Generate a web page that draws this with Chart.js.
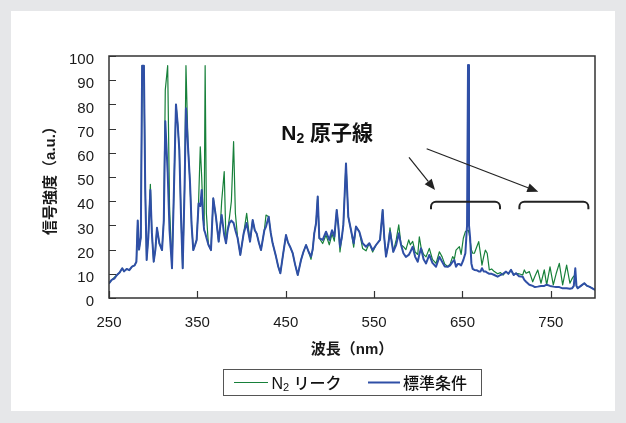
<!DOCTYPE html>
<html>
<head>
<meta charset="utf-8">
<script src="https://cdn.jsdelivr.net/npm/chart.js@4.4.0/dist/chart.umd.min.js"></script>
<style>
  html, body { margin: 0; padding: 0; background: #e6e7e9; }
  #wrap { width: 626px; height: 423px; }
</style>
</head>
<body>
<div id="wrap"><canvas id="spectrum" width="626" height="423"></canvas></div>
<script>
// Wavelength (nm) shared by both spectra
const wavelength = [
  250, 253, 256, 259, 262, 265, 267, 270, 273, 276, 279, 281, 282.5, 284, 286, 287.5, 289.5, 291, 292.6, 294.5,
  296.8, 298.5, 300.6, 302.5, 304.3, 307, 310, 312, 313.7, 316.4, 318.5, 321.3, 323.5, 325.8, 327.7, 329.6,
  331.5, 333.4, 335.5, 337.1, 339.5, 341.7, 343.5, 345.4, 347.5, 349.2, 351.4, 353.3, 354.9, 356.5, 357.7,
  358.8, 360.2, 362.5, 365.4, 368, 371, 374.1, 376, 377.5, 380.4, 382.4, 384.3, 386.2, 388.5, 391, 393,
  395.6, 398.6, 402.4, 405.8, 409.6, 412.6, 415, 417.1, 419.5, 422, 425.8, 427.7, 430.7, 433, 435.2, 439,
  441.5, 443.9, 447, 450.3, 452.5, 454.9, 457.9, 460.5, 463.6, 467.3, 470, 473, 476, 478.6, 480.5, 482.3,
  484.3, 486.2, 488, 491.8, 495.6, 499.3, 502.4, 505, 507.7, 509.5, 511.4, 513.5, 515.2, 518.2, 520.8, 523.9,
  526.9, 529.5, 533.3, 537, 540.9, 544.6, 548.4, 552.2, 556.7, 559.7, 561.5, 563.5, 566, 568, 571.7, 575,
  577.9, 580.5, 583.2, 586, 589.2, 591, 593.7, 596.5, 599.4, 601.2, 603.1, 606, 608.8, 612.5, 616, 620.1,
  623.9, 627, 630, 633.3, 636, 638.9, 640.8, 642.7, 644.6, 646.5, 648.5, 651, 653.3, 655.2, 656.3, 657.4,
  658.6, 660.1, 661.6, 663.5, 666, 668.4, 670.5, 672.1, 674, 675.9, 678, 680.4, 683, 686.1, 689.8, 693, 696,
  699.3, 702, 705, 708, 710.6, 714, 718.2, 720, 722, 725.7, 729.5, 732, 735.2, 738.9, 742.6, 745.3, 749.1,
  752.8, 756, 759.6, 763.4, 767.9, 771.6, 774, 776, 777.7, 779, 780.4, 784, 787.9, 791, 793.5, 797, 800
];

// Signal intensity (a.u.) with N2 leak
const n2Leak = [
  6, 7.5, 8.5, 9.5, 10.5, 12.3, 11, 12, 11.5, 13, 13.5, 15, 32, 20, 25, 96, 96, 45, 15.7, 25,
  47, 27, 15, 20, 29, 22.6, 19.8, 32, 86, 96, 38, 12.3, 45, 80, 72, 61,
  33.6, 12.3, 45, 96, 62, 47.5, 30, 19.8, 22, 24, 40, 62.5, 50, 33, 30,
  96, 35, 22, 19.8, 41.2, 33.6, 23.3, 30, 40, 52.2, 22.6, 28, 33, 40, 64.6, 35,
  24.7, 17.8, 26.7, 35, 23.3, 32.2, 28, 26.7, 23, 19.8, 28, 34.3, 33.6, 27, 22.6, 17.1,
  13, 10.2, 18, 26, 23, 21.2, 18.5, 14, 9.5, 15.7, 19, 21.9, 19, 16, 20, 26.7,
  30.9, 41.9, 24.7, 22.5, 26, 22, 26.5, 23.5, 36.4, 30, 19, 25, 30.2, 55.6, 33.6, 28,
  21, 29.5, 27.4, 20.5, 19.5, 22.6, 19, 21.9, 24, 36.4, 25, 17.1, 22, 29, 19.1, 24,
  30.2, 22, 21.2, 20, 24, 22, 23.4, 19, 18, 25.3, 21, 18, 17, 20.5, 16, 14.3,
  19.1, 17, 14, 13, 14, 17.1, 16, 19.8, 20.5, 21.2, 18, 24.7, 27.4, 28, 28, 27,
  24, 20, 18.5, 18.5, 21, 23.3, 18, 13.6, 17, 19.8, 18.5, 11.6, 12, 10.9, 10, 10.5, 9.5,
  10.9, 10, 11.6, 9.5, 10.2, 10, 9.5, 11.6, 10.2, 10.9, 6.7, 9, 11.6, 6.1, 11.6, 5.4, 12.9,
  5.4, 10, 14.3, 5.4, 13.6, 6.1, 8, 9, 9, 5, 4, 5, 6.1, 5, 4.7, 4, 3.3
];

// Signal intensity (a.u.) under standard conditions
const standard = [
  6, 7.5, 8, 9.5, 10.5, 12.3, 11, 12, 11.5, 13, 13.5, 15, 32, 20, 25, 96, 96, 45, 15.7, 25,
  44.6, 27, 15, 20, 29, 22.6, 19.8, 32, 73, 52, 28, 12.3, 45, 80, 72, 61,
  33.6, 12.3, 45, 78.4, 62, 47.5, 30, 19.8, 22, 24, 39.1, 38, 44.6, 33, 28,
  27, 25, 22, 19.8, 41.2, 33.6, 23.3, 30, 34.3, 26, 22.6, 28, 30.9, 32, 31, 28,
  24.7, 17.8, 26.7, 31, 23.3, 32.2, 28, 26.7, 23, 19.8, 28, 29.5, 33.6, 27, 22.6, 17.1,
  13, 10.2, 18, 26, 23, 21.2, 18.5, 14, 9.5, 15.7, 19, 21.9, 19, 17.1, 20, 26.7,
  30.9, 41.9, 24.7, 24, 27.4, 24, 28, 25.3, 36.4, 30, 21.2, 25, 30.2, 55.6, 33.6, 28,
  22.6, 29.5, 27.4, 22.6, 21.2, 22.6, 19.8, 21.9, 24, 36.4, 25, 17.1, 22, 27.4, 19.1, 22,
  26.7, 22, 18.5, 17, 17.8, 19, 21.2, 17, 15, 18, 20.5, 16, 14.3, 17.8, 14.5, 12.9,
  17, 15, 13, 12.9, 13.5, 15, 15.7, 12.9, 14, 14, 13.5, 15.7, 18.5, 30, 96.3, 30,
  25.3, 14.3, 12, 11.6, 11.5, 11, 11, 12.3, 11, 11, 10.5, 10, 10, 9.5, 8.8, 9.5, 10,
  10.9, 10, 11.6, 9.5, 10.2, 9, 8.8, 7.5, 6.7, 5.5, 5, 4.5, 4.7, 5, 5, 5.5, 5,
  4.7, 4.5, 4.5, 4, 4, 3.8, 4, 5, 12.3, 5, 4, 5, 6.1, 5, 4.7, 4, 3.3
];

const seriesLabels = ['N2 リーク', '標準条件'];
const seriesColors = ['#17803a', '#2f4fa6'];
const xTicks = [250, 350, 450, 550, 650, 750];
const yTicks = [0, 10, 20, 30, 40, 50, 60, 70, 80, 90, 100];

const latin = "'Liberation Sans', Arial, 'Noto Sans CJK JP', sans-serif";
const ink = '#1a1a1a';

// draw text pieces one after another (used for the N2 subscript)
function drawRuns(ctx, x, y, runs) {
  runs.forEach(r => {
    ctx.font = r.font;
    ctx.fillText(r.text, x, y + (r.dy || 0));
    x += ctx.measureText(r.text).width;
  });
  return x;
}

function arrow(ctx, x1, y1, x2, y2) {
  const a = Math.atan2(y2 - y1, x2 - x1);
  const len = 11, half = 4.5;
  const bx = x2 - len * Math.cos(a), by = y2 - len * Math.sin(a);
  ctx.beginPath();
  ctx.moveTo(x1, y1);
  ctx.lineTo(bx, by);
  ctx.stroke();
  ctx.beginPath();
  ctx.moveTo(x2, y2);
  ctx.lineTo(bx + half * Math.sin(a), by - half * Math.cos(a));
  ctx.lineTo(bx - half * Math.sin(a), by + half * Math.cos(a));
  ctx.closePath();
  ctx.fill();
}

function bracket(ctx, x1, x2, yTop, yEnd) {
  const r = 5;
  ctx.beginPath();
  ctx.moveTo(x1, yEnd);
  ctx.arcTo(x1, yTop, x1 + r, yTop, r);
  ctx.lineTo(x2 - r, yTop);
  ctx.arcTo(x2, yTop, x2, yEnd, r);
  ctx.lineTo(x2, yEnd);
  ctx.stroke();
}

const decorPlugin = {
  id: 'decor',
  beforeDraw(chart) {
    const ctx = chart.ctx;
    ctx.save();
    ctx.fillStyle = '#e6e7e9';
    ctx.fillRect(0, 0, chart.width, chart.height);
    ctx.fillStyle = '#ffffff';
    ctx.fillRect(11, 11, chart.width - 22, chart.height - 23);
    ctx.restore();
  },
  afterDatasetsDraw(chart) {
    const ctx = chart.ctx;
    const {left, right, top, bottom} = chart.chartArea;
    const xs = chart.scales.x, ys = chart.scales.y;
    ctx.save();
    // plot frame
    ctx.strokeStyle = '#333';
    ctx.lineWidth = 1.5;
    ctx.strokeRect(left, top, right - left, bottom - top);
    // inward tick marks
    ctx.lineWidth = 1.2;
    ctx.beginPath();
    yTicks.forEach(v => {
      const y = Math.round(ys.getPixelForValue(v)) + 0.5;
      ctx.moveTo(left, y);
      ctx.lineTo(left + 7, y);
    });
    xTicks.forEach(v => {
      const x = Math.round(xs.getPixelForValue(v)) + 0.5;
      ctx.moveTo(x, bottom);
      ctx.lineTo(x, bottom - 7);
    });
    ctx.stroke();

    // annotation: N2 atomic lines
    const px = v => xs.getPixelForValue(v);
    const py = v => ys.getPixelForValue(v);
    ctx.fillStyle = '#111';
    ctx.textBaseline = 'alphabetic';
    drawRuns(ctx, px(445), py(65.3), [
      {text: 'N', font: 'bold 21px ' + latin},
      {text: '2', font: 'bold 14px ' + latin, dy: 3},
      {text: ' 原子線', font: 'bold 21px ' + latin}
    ]);
    ctx.strokeStyle = '#222';
    ctx.fillStyle = '#222';
    ctx.lineWidth = 1.2;
    arrow(ctx, px(589.5), py(58.1), px(619), py(44.6));
    arrow(ctx, px(609.5), py(61.7), px(735.8), py(43.9));
    ctx.lineWidth = 2;
    bracket(ctx, px(614.4), px(692.5), py(39.8), py(36.7));
    bracket(ctx, px(714.4), px(792.5), py(39.8), py(36.7));
    ctx.restore();
  },
  afterDraw(chart) {
    // legend box
    const ctx = chart.ctx;
    ctx.save();
    ctx.fillStyle = '#fff';
    ctx.fillRect(223, 369, 258, 26);
    ctx.strokeStyle = '#555';
    ctx.lineWidth = 1;
    ctx.strokeRect(223.5, 369.5, 258, 26);
    const yMid = 382.5;
    ctx.lineWidth = 1.2;
    ctx.strokeStyle = seriesColors[0];
    ctx.beginPath(); ctx.moveTo(234, yMid); ctx.lineTo(268, yMid); ctx.stroke();
    ctx.lineWidth = 2;
    ctx.strokeStyle = seriesColors[1];
    ctx.beginPath(); ctx.moveTo(368, yMid); ctx.lineTo(400, yMid); ctx.stroke();
    ctx.fillStyle = '#111';
    ctx.textBaseline = 'alphabetic';
    const parts = seriesLabels[0].split(' ');
    drawRuns(ctx, 271.5, 389, [
      {text: parts[0][0], font: '500 16px ' + latin},
      {text: parts[0].slice(1), font: '500 11px ' + latin, dy: 2},
      {text: ' ' + parts[1], font: '500 16px ' + latin}
    ]);
    drawRuns(ctx, 403, 389, [{text: seriesLabels[1], font: '500 16px ' + latin}]);
    ctx.restore();
  }
};

new Chart(document.getElementById('spectrum'), {
  type: 'line',
  data: {
    datasets: [
      {
        label: seriesLabels[0],
        data: wavelength.map((w, i) => ({x: w, y: n2Leak[i]})),
        borderColor: seriesColors[0],
        borderWidth: 1.2,
        order: 2
      },
      {
        label: seriesLabels[1],
        data: wavelength.map((w, i) => ({x: w, y: standard[i]})),
        borderColor: seriesColors[1],
        borderWidth: 2,
        order: 1
      }
    ]
  },
  options: {
    responsive: false,
    animation: false,
    layout: {padding: {left: 0, top: 56, right: 31, bottom: 64}},
    elements: {point: {radius: 0}, line: {tension: 0, borderJoinStyle: 'round'}},
    plugins: {legend: {display: false}, tooltip: {enabled: false}},
    scales: {
      x: {
        type: 'linear',
        min: 250,
        max: 800,
        afterBuildTicks: s => { s.ticks = xTicks.map(v => ({value: v})); },
        afterFit: s => { s.height = 61; },
        grid: {display: false},
        border: {display: false},
        ticks: {padding: 8, color: ink, font: {family: latin, size: 15}, maxRotation: 0, autoSkip: false},
        title: {display: true, text: '波長（nm）', color: ink,
                font: {family: latin, size: 15, weight: 'bold'}, padding: {top: 0, bottom: 0}}
      },
      y: {
        min: 0,
        max: 100,
        afterBuildTicks: s => { s.ticks = yTicks.map(v => ({value: v})); },
        afterFit: s => { s.width = 109; },
        grid: {display: false},
        border: {display: false},
        ticks: {padding: 7, labelOffset: 4, color: ink, font: {family: latin, size: 15}},
        title: {display: true, text: '信号強度（a.u.）', color: ink,
                font: {family: latin, size: 15, weight: 'bold'}, padding: {top: 41.5, bottom: 0}}
      }
    }
  },
  plugins: [decorPlugin]
});
</script>
</body>
</html>
